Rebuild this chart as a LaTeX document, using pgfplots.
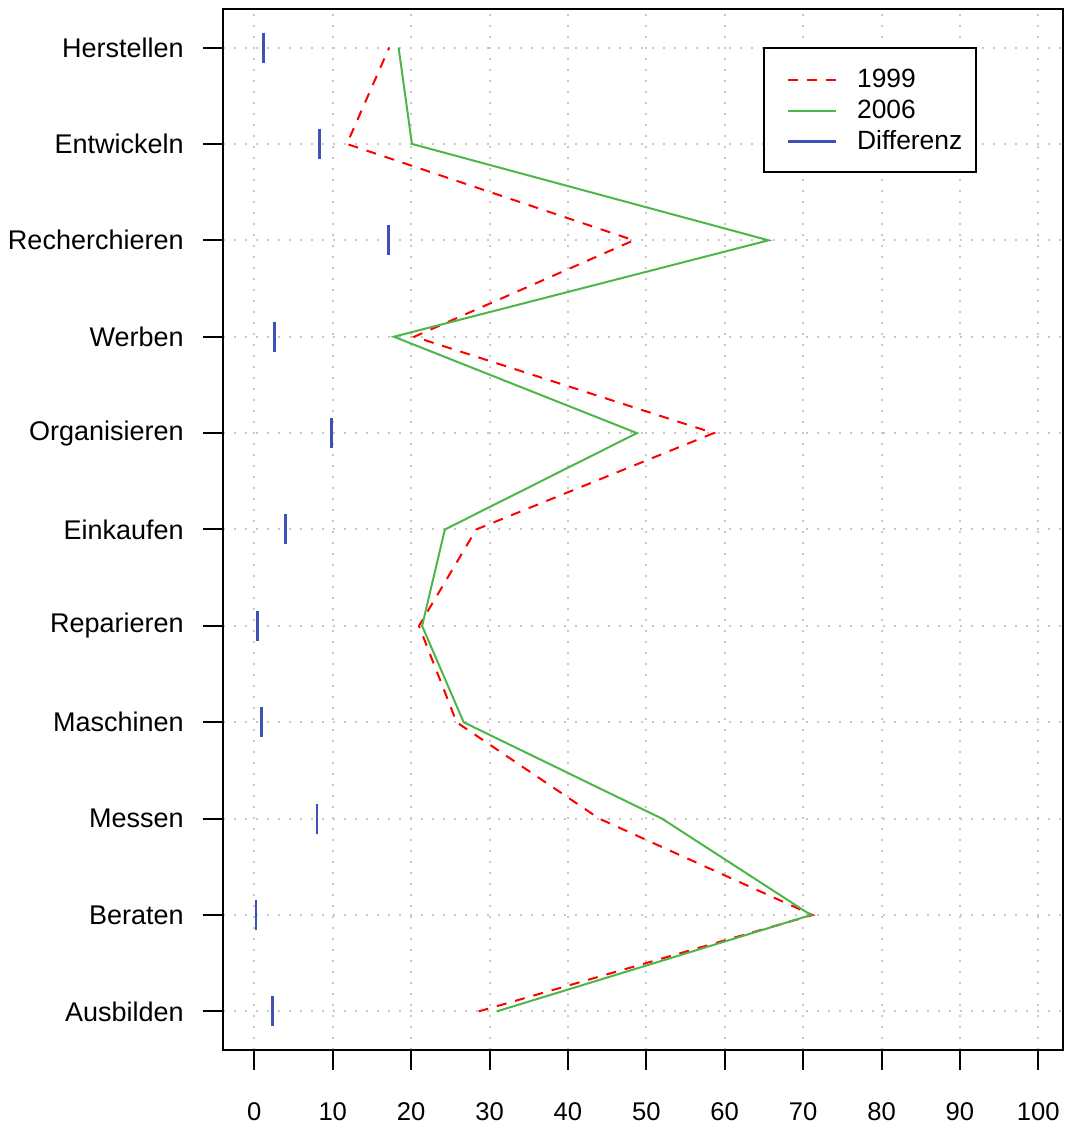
\documentclass[border=0pt]{standalone}
\usepackage{fontspec}
\setmainfont{Liberation Sans}
\usepackage{pgfplots}
\pgfplotsset{compat=1.18}
\definecolor{rred}{RGB}{255,0,0}
\definecolor{rgreen}{RGB}{77,182,72}
\definecolor{rblue}{RGB}{63,81,181}
\definecolor{rgrid}{RGB}{200,200,200}
\newcommand\lf{\fontsize{12.8}{15.4}\selectfont}
\newcommand\yf{\fontsize{13.5}{16}\selectfont}
\newcommand\gf{\fontsize{13.2}{16}\selectfont}
\begin{document}
\begin{tikzpicture}
\begin{axis}[
  scale only axis, width=420pt, height=520.5pt,
  xmin=-4, xmax=103.15, ymin=0.6, ymax=11.4,
  axis line style={line width=1pt},
  xtick={0,10,...,100}, ytick={1,2,...,11},
  yticklabels={Ausbilden,Beraten,Messen,Maschinen,Reparieren,Einkaufen,Organisieren,Werben,Recherchieren,Entwickeln,Herstellen},
  tick align=outside, tick pos=left, major tick length=10pt,
  every tick/.style={black, line width=1pt},
  grid=major, major grid style={rgrid, line width=1pt, dash pattern=on 1pt off 4.5pt},
  tick label style={font=\lf},
  /pgf/number format/assume math mode=true,
  xticklabel style={anchor=north, inner sep=0pt, yshift=-16pt},
  yticklabel style={anchor=east, inner sep=0pt, xshift=-9.5pt, font=\yf},
  legend style={at={(rel axis cs:0.643,0.9635)}, anchor=north west, draw=black, line width=1pt, fill=white,
    inner xsep=0pt, inner ysep=8pt, row sep=0pt, column sep=0pt, font=\gf,
    cells={inner sep=0pt}},
  legend cell align=left,
  legend image code/.code={\path[draw=none,fill=none] (0pt,-6.2pt) rectangle (44.5pt,8.0pt); \draw[#1] (11.9pt,0pt) -- (35.9pt,0pt);},
]
\coordinate (bl) at (rel axis cs:0,0);
\coordinate (tr) at (rel axis cs:1,1);
\addlegendimage{rred, line width=1pt, dash pattern=on 5pt off 4.5pt}
\addlegendentry{1999}
\addlegendimage{rgreen, line width=1pt}
\addlegendentry{2006}
\addlegendimage{rblue, line width=1.2pt}
\addlegendentry{Differenz\kern5pt}
% 1999
\addplot[forget plot, rred, line width=1pt, dash pattern=on 5pt off 4.5pt] coordinates {
(28.6,1) (71.2,2) (44.0,3) (25.8,4) (21.0,5) (28.3,6) (58.6,7) (20.4,8) (48.4,9) (11.8,10) (17.2,11)};
% 2006
\addplot[forget plot, rgreen, line width=1pt] coordinates {
(30.9,1) (71.0,2) (52.0,3) (26.7,4) (21.4,5) (24.3,6) (48.8,7) (17.8,8) (65.6,9) (20.1,10) (18.4,11)};
% Differenz
\addplot[forget plot, rblue, only marks, mark=|, mark size=7.5pt, mark options={line width=1.4pt}] coordinates {
(2.3,1) (0.2,2) (8.0,3) (0.9,4) (0.4,5) (4.0,6) (9.8,7) (2.6,8) (17.1,9) (8.3,10) (1.2,11)};
\end{axis}
\pgfresetboundingbox
\useasboundingbox ([xshift=-111.5pt,yshift=-39.5pt]bl) rectangle ([xshift=4.5pt,yshift=4.5pt]tr);
\end{tikzpicture}
\end{document}
